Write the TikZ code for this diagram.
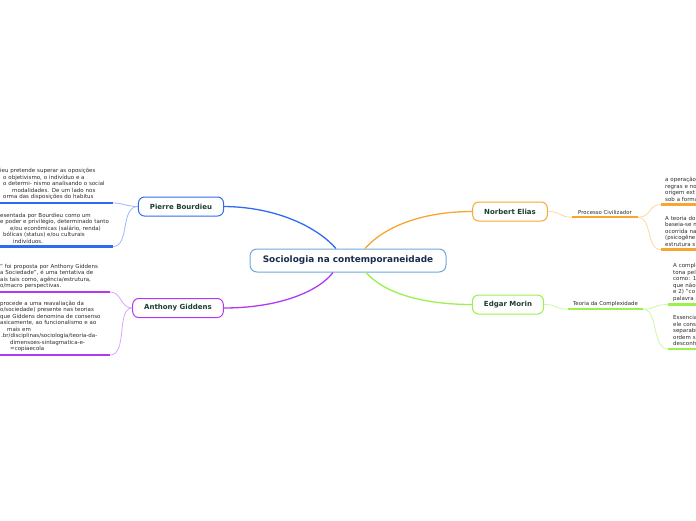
\documentclass[tikz,border=0pt]{standalone}
\usepackage{fontspec}
\setmainfont{DejaVu Sans}
\usepackage{tikz}
\usetikzlibrary{calc,positioning}
\definecolor{rootblue}{HTML}{6FA8DC}
\definecolor{pbblue}{HTML}{2F6BF2}
\definecolor{pblight}{HTML}{9DB8F7}
\definecolor{agpurple}{HTML}{B03AF2}
\definecolor{aglight}{HTML}{DCA6F8}
\definecolor{neorange}{HTML}{F9A531}
\definecolor{nelight}{HTML}{FDD7A2}
\definecolor{emgreen}{HTML}{9CF04C}
\definecolor{emlight}{HTML}{CCF7A8}
\definecolor{roottext}{HTML}{1B2B4D}
\definecolor{topictext}{HTML}{1D3D32}
\definecolor{leaftext}{HTML}{2B2B2B}
\tikzstyle{mainidea} = [rectangle, rounded corners=7pt, draw=rootblue, line width=1pt, fill=white, minimum width=196pt, minimum height=23pt, text=roottext, font=\fontsize{8.9}{10}\selectfont\bfseries]
\tikzstyle{topic} = [rectangle, rounded corners=6pt, line width=1pt, fill=white, inner xsep=11.5pt, minimum height=19pt, text=topictext, font=\fontsize{7}{8}\selectfont\bfseries]
\tikzstyle{subtopic} = [inner sep=0pt, minimum height=9pt, text=leaftext, font=\fontsize{5.4}{6}\selectfont]
\tikzstyle{leaf} = [inner sep=0pt, anchor=south west, text width=150pt, align=left, text=leaftext, font=\fontsize{5.5}{6.5}\selectfont]
\tikzstyle{branch} = [line width=1.3pt]
\tikzstyle{twig} = [line width=0.8pt]
\tikzstyle{leafline} = [line width=2.2pt]

\begin{document}
\begin{tikzpicture}[x=1pt, y=-1pt]
    \useasboundingbox (0,0) rectangle (696,520);
    \clip (0,0) rectangle (696,520);

    % main idea and topics
    \node (root) [mainidea] at (348,260.5) {Sociologia na contemporaneidade};
    \node (bourdieu) [topic, draw=pbblue] at (181,206.5) {Pierre Bourdieu};
    \node (giddens) [topic, draw=agpurple] at (178,308) {Anthony Giddens};
    \node (elias) [topic, draw=neorange] at (510,211.5) {Norbert Elias};
    \node (morin) [topic, draw=emgreen] at (508,304.5) {Edgar Morin};

    \draw [branch, pbblue] ($(root.north)+(-12,0)$) .. controls (318,228) and (278,207) .. (bourdieu.east);
    \draw [branch, agpurple] ($(root.south)+(-15,0)$) .. controls (318,292) and (278,308) .. (giddens.east);
    \draw [branch, neorange] ($(root.north)+(17,0)$) .. controls (383,228) and (420,211.5) .. (elias.west);
    \draw [branch, emgreen] ($(root.south)+(18,0)$) .. controls (383,292) and (420,304.5) .. (morin.west);

    % subtopics
    \node (civ) [subtopic, minimum width=66pt] at (605,212.5) {Processo Civilizador};
    \node (compl) [subtopic, minimum width=75pt] at (605.5,304.5) {Teoria da Complexidade};
    \draw [leafline, neorange] (civ.south west) -- (civ.south east);
    \draw [leafline, emgreen] (compl.south west) -- (compl.south east);
    \draw [twig, nelight] (elias.east) .. controls (562,211.5) and (558,217) .. (civ.south west);
    \draw [twig, emlight] (morin.east) .. controls (558,304.5) and (554,309) .. (compl.south west);

    % leaf ends
    \coordinate (pb1a) at (0,203);   \coordinate (pb1b) at (113,203);
    \coordinate (pb2a) at (0,246.5); \coordinate (pb2b) at (113,246.5);
    \coordinate (ag1a) at (0,292);   \coordinate (ag1b) at (110,292);
    \coordinate (ag2a) at (0,355);   \coordinate (ag2b) at (110,355);
    \coordinate (ne1a) at (661,204.5); \coordinate (ne1b) at (700,204.5);
    \coordinate (ne2a) at (661,249.5); \coordinate (ne2b) at (700,249.5);
    \coordinate (em1a) at (668,304.5); \coordinate (em1b) at (700,304.5);
    \coordinate (em2a) at (668,349);   \coordinate (em2b) at (700,349);

    \draw [leafline, pbblue] (pb1a) -- (pb1b);
    \draw [leafline, pbblue] (pb2a) -- (pb2b);
    \draw [leafline, agpurple] (ag1a) -- (ag1b);
    \draw [leafline, agpurple] (ag2a) -- (ag2b);
    \draw [leafline, neorange] (ne1a) -- (ne1b);
    \draw [leafline, neorange] (ne2a) -- (ne2b);
    \draw [leafline, emgreen] (em1a) -- (em1b);
    \draw [leafline, emgreen] (em2a) -- (em2b);

    \draw [twig, pblight] (bourdieu.west) .. controls (126,206.5) and (124,203) .. (pb1b);
    \draw [twig, pblight] (bourdieu.west) .. controls (120,206.5) and (130,246.5) .. (pb2b);
    \draw [twig, aglight] (giddens.west) .. controls (120,308) and (122,292) .. (ag1b);
    \draw [twig, aglight] (giddens.west) .. controls (116,308) and (128,355) .. (ag2b);
    \draw [twig, nelight] (civ.south east) .. controls (652,217) and (648,204.5) .. (ne1a);
    \draw [twig, nelight] (civ.south east) .. controls (652,217) and (646,249.5) .. (ne2a);
    \draw [twig, emlight] (compl.south east) .. controls (656,309) and (654,304.5) .. (em1a);
    \draw [twig, emlight] (compl.south east) .. controls (658,309) and (652,349) .. (em2a);

    % leaf texts
    \node (pb1) [leaf] at (0,200) {ieu pretende superar as oposições\\
        \hspace*{3pt}o objetivismo, o indivíduo e a\\
        \hspace*{3pt}o determi- nismo analisando o social\\
        \hspace*{12pt}modalidades. De um lado nos\\
        \hspace*{3pt}orma das disposições do habitus};
    \node (pb2) [leaf] at (0,243.5) {esentada por Bourdieu como um\\
        e poder e privilégio, determinado tanto\\
        \hspace*{10pt}e/ou econômicas (salário, renda)\\
        \hspace*{3pt}bólicas (status) e/ou culturais\\
        \hspace*{13pt}indivíduos.};
    \node (ag1) [leaf] at (0,289) {{"} foi proposta por Anthony Giddens\\
        a Sociedade", é uma tentativa de\\
        ais tais como, agência/estrutura,\\
        o/macro perspectivas.};
    \node (ag2) [leaf] at (0,352) {procede a uma reavaliação da\\
        o/sociedade) presente nas teorias\\
        que Giddens denomina de consenso\\
        asicamente, ao funcionalismo e ao\\
        \hspace*{7pt}mais em\\
        \hspace*{1pt}.br/disciplinas/sociologia/teoria-da-\\
        \hspace*{10pt}dimensoes-sintagmatica-e-\\
        \hspace*{10pt}=copiaecola};
    \node (ne1) [leaf] at (665,201.5) {a operação\\ regras e no\\ origem ext\\ sob a forma};
    \node (ne2) [leaf] at (665,246.5) {A teoria do\\ baseia-se n\\ ocorrida na\\ (psicogêne\\ estrutura s};
    \node (em1) [leaf] at (673,301.5) {A complex\\ tona pel\\ como: 1\\ que não\\ e 2) "co\\ palavra s};
    \node (em2) [leaf] at (673,346) {Essencia\\ ele consi\\ separabi\\ ordem s\\ desconh};

\end{tikzpicture}
\end{document}
